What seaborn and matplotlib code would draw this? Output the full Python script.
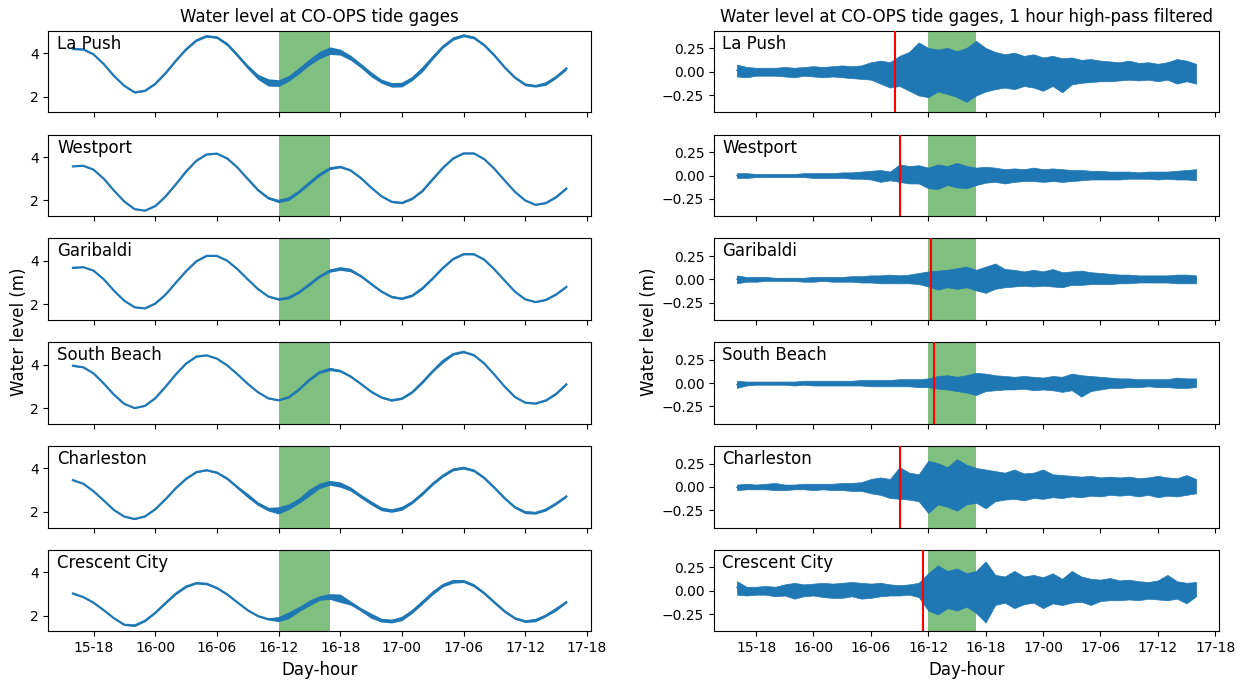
import numpy as np
import pandas as pd
import matplotlib
matplotlib.use("Agg")
import matplotlib.pyplot as plt
import matplotlib.dates as mdates
import seaborn as sns

# hourly samples, 15-16 to 17-16
times = pd.date_range("2022-01-15 16:00", periods=49, freq="h")

stations = ["La Push", "Westport", "Garibaldi", "South Beach", "Charleston", "Crescent City"]

# raw water level (m)
la_push_level = [4.20, 4.18, 3.95, 3.50, 2.95, 2.50, 2.20, 2.27, 2.59, 3.08, 3.65, 4.18, 4.59, 4.79, 4.73, 4.42, 3.92,
                 3.37, 2.91, 2.64, 2.63, 2.84, 3.20, 3.61, 3.94, 4.10, 4.04, 3.79, 3.43, 3.03, 2.71, 2.54, 2.57, 2.83,
                 3.28, 3.80, 4.31, 4.67, 4.82, 4.72, 4.38, 3.90, 3.35, 2.88, 2.56, 2.49, 2.60, 2.90, 3.30]
westport_level = [3.57, 3.60, 3.42, 3.00, 2.45, 1.95, 1.60, 1.53, 1.74, 2.18, 2.74, 3.33, 3.83, 4.12, 4.16, 3.94, 3.52,
                  2.99, 2.48, 2.11, 1.98, 2.09, 2.40, 2.81, 3.20, 3.48, 3.55, 3.39, 3.04, 2.60, 2.20, 1.94, 1.89, 2.08,
                  2.44, 2.98, 3.51, 3.94, 4.17, 4.17, 3.91, 3.46, 2.92, 2.40, 2.00, 1.80, 1.88, 2.15, 2.55]
garibaldi_level = [3.68, 3.71, 3.55, 3.15, 2.62, 2.16, 1.86, 1.81, 2.03, 2.44, 2.99, 3.52, 3.98, 4.23, 4.23, 4.01, 3.62,
                   3.15, 2.70, 2.36, 2.23, 2.31, 2.56, 2.92, 3.28, 3.55, 3.65, 3.56, 3.30, 2.94, 2.59, 2.34, 2.26, 2.40,
                   2.74, 3.19, 3.68, 4.09, 4.31, 4.31, 4.06, 3.61, 3.09, 2.58, 2.23, 2.10, 2.20, 2.45, 2.80]
south_beach_level = [3.95, 3.88, 3.60, 3.13, 2.61, 2.19, 2.00, 2.10, 2.45, 2.98, 3.55, 4.05, 4.37, 4.43, 4.28, 3.97,
                     3.56, 3.12, 2.73, 2.45, 2.36, 2.50, 2.86, 3.30, 3.66, 3.80, 3.71, 3.46, 3.12, 2.76, 2.49, 2.36,
                     2.44, 2.73, 3.19, 3.70, 4.17, 4.49, 4.59, 4.44, 4.06, 3.54, 2.99, 2.51, 2.25, 2.21, 2.35, 2.65, 3.09]
charleston_level = [3.46, 3.30, 2.95, 2.52, 2.08, 1.78, 1.67, 1.79, 2.12, 2.58, 3.09, 3.52, 3.83, 3.92, 3.81, 3.53, 3.14,
                    2.73, 2.37, 2.13, 2.07, 2.22, 2.52, 2.88, 3.19, 3.33, 3.27, 3.05, 2.72, 2.40, 2.14, 2.05, 2.15, 2.44,
                    2.84, 3.29, 3.67, 3.95, 4.03, 3.90, 3.57, 3.11, 2.63, 2.21, 1.98, 1.95, 2.10, 2.38, 2.71]
crescent_city_level = [3.02, 2.86, 2.60, 2.25, 1.88, 1.58, 1.55, 1.76, 2.13, 2.58, 3.01, 3.34, 3.50, 3.47, 3.28, 2.98,
                       2.61, 2.25, 1.98, 1.84, 1.85, 2.02, 2.30, 2.58, 2.81, 2.89, 2.81, 2.58, 2.28, 1.99, 1.79, 1.74,
                       1.88, 2.19, 2.62, 3.04, 3.40, 3.59, 3.59, 3.39, 3.04, 2.61, 2.20, 1.88, 1.74, 1.78, 2.00, 2.30, 2.62]

# high-pass filtered signal, hourly upper / lower envelope (m)
la_push_hp_upper = [0.09, 0.06, 0.05, 0.05, 0.05, 0.06, 0.05, 0.06, 0.07, 0.06, 0.07, 0.08, 0.07, 0.08, 0.12, 0.14,
                    0.12, 0.20, 0.25, 0.37, 0.30, 0.28, 0.30, 0.26, 0.30, 0.39, 0.30, 0.25, 0.22, 0.24, 0.20, 0.22,
                    0.18, 0.20, 0.17, 0.18, 0.15, 0.16, 0.14, 0.13, 0.12, 0.14, 0.11, 0.12, 0.10, 0.12, 0.16, 0.14, 0.10]
la_push_hp_lower = [-0.06, -0.07, -0.05, -0.05, -0.05, -0.06, -0.07, -0.05, -0.06, -0.07, -0.06, -0.07, -0.08, -0.09,
                    -0.10, -0.15, -0.20, -0.18, -0.24, -0.30, -0.32, -0.25, -0.28, -0.32, -0.38, -0.30, -0.25, -0.22,
                    -0.20, -0.22, -0.18, -0.20, -0.24, -0.18, -0.26, -0.16, -0.14, -0.13, -0.12, -0.12, -0.11, -0.10,
                    -0.11, -0.10, -0.12, -0.10, -0.15, -0.12, -0.15]
westport_hp_upper = [0.03, 0.03, 0.02, 0.02, 0.02, 0.02, 0.02, 0.03, 0.03, 0.03, 0.03, 0.04, 0.04, 0.05, 0.06, 0.07,
                     0.05, 0.14, 0.12, 0.13, 0.10, 0.14, 0.12, 0.16, 0.12, 0.10, 0.11, 0.10, 0.08, 0.09, 0.08, 0.10,
                     0.08, 0.09, 0.08, 0.07, 0.07, 0.06, 0.06, 0.05, 0.05, 0.05, 0.04, 0.05, 0.05, 0.05, 0.06, 0.07, 0.08]
westport_hp_lower = [-0.03, -0.03, -0.02, -0.02, -0.02, -0.02, -0.02, -0.02, -0.03, -0.03, -0.03, -0.03, -0.04, -0.04,
                     -0.05, -0.08, -0.06, -0.08, -0.10, -0.10, -0.16, -0.17, -0.12, -0.15, -0.16, -0.12, -0.09, -0.08,
                     -0.10, -0.08, -0.07, -0.07, -0.08, -0.07, -0.08, -0.07, -0.06, -0.05, -0.05, -0.05, -0.05, -0.04,
                     -0.04, -0.04, -0.05, -0.04, -0.05, -0.05, -0.06]
garibaldi_hp_upper = [0.05, 0.03, 0.03, 0.03, 0.02, 0.02, 0.02, 0.02, 0.03, 0.03, 0.03, 0.03, 0.04, 0.04, 0.05, 0.05,
                      0.06, 0.05, 0.06, 0.08, 0.10, 0.11, 0.12, 0.14, 0.16, 0.12, 0.16, 0.20, 0.13, 0.12, 0.10, 0.12,
                      0.10, 0.13, 0.09, 0.10, 0.11, 0.09, 0.08, 0.07, 0.06, 0.06, 0.05, 0.05, 0.05, 0.05, 0.06, 0.06, 0.05]
garibaldi_hp_lower = [-0.05, -0.03, -0.03, -0.02, -0.02, -0.02, -0.02, -0.03, -0.03, -0.02, -0.03, -0.03, -0.03, -0.04,
                      -0.04, -0.05, -0.05, -0.05, -0.05, -0.06, -0.09, -0.13, -0.10, -0.12, -0.10, -0.14, -0.17, -0.12,
                      -0.10, -0.09, -0.08, -0.09, -0.08, -0.09, -0.10, -0.07, -0.07, -0.06, -0.06, -0.06, -0.05, -0.05,
                      -0.04, -0.04, -0.04, -0.04, -0.05, -0.05, -0.05]
south_beach_hp_upper = [0.03, 0.02, 0.02, 0.02, 0.02, 0.02, 0.02, 0.03, 0.03, 0.03, 0.03, 0.03, 0.03, 0.04, 0.04, 0.04,
                        0.04, 0.05, 0.05, 0.05, 0.06, 0.09, 0.10, 0.08, 0.10, 0.13, 0.12, 0.10, 0.09, 0.08, 0.09, 0.08,
                        0.07, 0.09, 0.08, 0.12, 0.10, 0.09, 0.08, 0.07, 0.06, 0.06, 0.05, 0.05, 0.05, 0.05, 0.07, 0.06,
                        0.06]
south_beach_hp_lower = [-0.06, -0.03, -0.02, -0.02, -0.02, -0.02, -0.03, -0.02, -0.03, -0.03, -0.03, -0.03, -0.03,
                        -0.03, -0.04, -0.04, -0.04, -0.04, -0.04, -0.05, -0.05, -0.07, -0.08, -0.10, -0.12, -0.15,
                        -0.10, -0.09, -0.08, -0.08, -0.07, -0.09, -0.08, -0.09, -0.11, -0.09, -0.17, -0.10, -0.08,
                        -0.06, -0.06, -0.05, -0.05, -0.04, -0.05, -0.05, -0.06, -0.06, -0.05]
charleston_hp_upper = [0.03, 0.04, 0.03, 0.04, 0.05, 0.03, 0.03, 0.04, 0.04, 0.04, 0.04, 0.05, 0.05, 0.06, 0.10, 0.12,
                       0.10, 0.25, 0.18, 0.16, 0.33, 0.30, 0.25, 0.35, 0.28, 0.24, 0.22, 0.20, 0.18, 0.22, 0.17, 0.18,
                       0.22, 0.16, 0.15, 0.14, 0.13, 0.14, 0.12, 0.13, 0.12, 0.13, 0.11, 0.12, 0.14, 0.12, 0.11, 0.15,
                       0.10]
charleston_hp_lower = [-0.04, -0.03, -0.03, -0.03, -0.04, -0.04, -0.03, -0.03, -0.04, -0.03, -0.04, -0.04, -0.05,
                       -0.05, -0.08, -0.10, -0.14, -0.15, -0.16, -0.18, -0.33, -0.22, -0.25, -0.30, -0.22, -0.20,
                       -0.27, -0.18, -0.16, -0.15, -0.17, -0.14, -0.15, -0.13, -0.14, -0.12, -0.13, -0.11, -0.12,
                       -0.10, -0.11, -0.10, -0.12, -0.10, -0.13, -0.11, -0.12, -0.10, -0.08]
crescent_city_hp_upper = [0.12, 0.05, 0.05, 0.06, 0.05, 0.08, 0.10, 0.08, 0.09, 0.10, 0.09, 0.10, 0.11, 0.10, 0.09,
                          0.10, 0.08, 0.07, 0.08, 0.10, 0.22, 0.32, 0.25, 0.28, 0.22, 0.25, 0.37, 0.20, 0.18, 0.25,
                          0.18, 0.20, 0.17, 0.22, 0.15, 0.25, 0.18, 0.15, 0.14, 0.16, 0.13, 0.14, 0.12, 0.11, 0.13,
                          0.20, 0.12, 0.10, 0.11]
crescent_city_hp_lower = [-0.05, -0.06, -0.05, -0.05, -0.07, -0.06, -0.10, -0.07, -0.06, -0.08, -0.09, -0.09, -0.07,
                          -0.10, -0.09, -0.07, -0.06, -0.06, -0.05, -0.08, -0.25, -0.30, -0.22, -0.25, -0.20, -0.28,
                          -0.40, -0.18, -0.15, -0.22, -0.17, -0.15, -0.22, -0.16, -0.18, -0.15, -0.14, -0.18, -0.13,
                          -0.12, -0.12, -0.11, -0.12, -0.10, -0.11, -0.12, -0.10, -0.16, -0.07]

levels = [la_push_level, westport_level, garibaldi_level, south_beach_level, charleston_level, crescent_city_level]
hp_upper = [la_push_hp_upper, westport_hp_upper, garibaldi_hp_upper, south_beach_hp_upper, charleston_hp_upper,
            crescent_city_hp_upper]
hp_lower = [la_push_hp_lower, westport_hp_lower, garibaldi_hp_lower, south_beach_hp_lower, charleston_hp_lower,
            crescent_city_hp_lower]

# expected arrival time at each gage (red lines)
arrivals = ["2022-01-16 08:30", "2022-01-16 09:00", "2022-01-16 12:17",
            "2022-01-16 12:35", "2022-01-16 09:03", "2022-01-16 11:25"]
window = ("2022-01-16 12:00", "2022-01-16 17:00")

blue = "#1f77b4"
core = 0.85  # dense part of the noise band vs. the spike envelope
W, H = 1247, 681
fig = plt.figure(figsize=(W / 100, H / 100), dpi=100)

for i, name in enumerate(stations):
    top = 30.7 + 103.8 * i
    b = 1 - (top + 81.6) / H
    axl = fig.add_axes([48.3 / W, b, 542.7 / W, 81.6 / H])
    axr = fig.add_axes([714 / W, b, 505 / W, 81.6 / H])

    lev = np.array(levels[i])
    up = np.array(hp_upper[i])
    lo = np.array(hp_lower[i])

    # left: raw level
    axl.axvspan(pd.Timestamp(window[0]), pd.Timestamp(window[1]), color="green", alpha=0.5, lw=0, zorder=0)
    axl.fill_between(times, lev + 0.5 * lo, lev + 0.5 * up, color=blue, lw=0, zorder=2)
    sns.lineplot(x=times, y=lev, ax=axl, color=blue, linewidth=1.6, zorder=3)
    axl.set_ylim(1.28, 5.04)
    axl.set_yticks([2, 4])

    # right: high-pass filtered
    axr.axvspan(pd.Timestamp(window[0]), pd.Timestamp(window[1]), color="green", alpha=0.5, lw=0, zorder=0)
    axr.fill_between(times, core * lo, core * up, color=blue, lw=0.5, zorder=2)
    sns.lineplot(x=times, y=(up + lo) / 2, ax=axr, color=blue, linewidth=1.0, zorder=3)
    axr.axvline(pd.Timestamp(arrivals[i]), color="red", linewidth=1.5, zorder=4)
    axr.set_ylim(-0.435, 0.44)
    axr.set_yticks([-0.25, 0, 0.25])
    axr.set_yticklabels(["\u22120.25", "0.00", "0.25"])

    for ax in (axl, axr):
        ax.set_xlim(pd.Timestamp("2022-01-15 13:36"), pd.Timestamp("2022-01-17 18:24"))
        ax.xaxis.set_major_locator(mdates.HourLocator(byhour=[0, 6, 12, 18]))
        ax.xaxis.set_major_formatter(mdates.DateFormatter("%d-%H"))
        ax.tick_params(labelsize=10)
        ax.set_ylabel("")
        ax.text(0.016, 0.95, name, transform=ax.transAxes, ha="left", va="top", fontsize=12)
        if i < 5:
            ax.tick_params(labelbottom=False)
            ax.set_xlabel("")
        else:
            ax.set_xlabel("Day-hour", fontsize=12)

    if i == 0:
        axl.set_title("Water level at CO-OPS tide gages", fontsize=12)
        axr.set_title("Water level at CO-OPS tide gages, 1 hour high-pass filtered", fontsize=12)

fig.text(19 / W, 1 - 331.9 / H, "Water level (m)", rotation=90, ha="center", va="center", fontsize=12)
fig.text(649 / W, 1 - 331.9 / H, "Water level (m)", rotation=90, ha="center", va="center", fontsize=12)

fig.savefig("out.png", dpi=100)
